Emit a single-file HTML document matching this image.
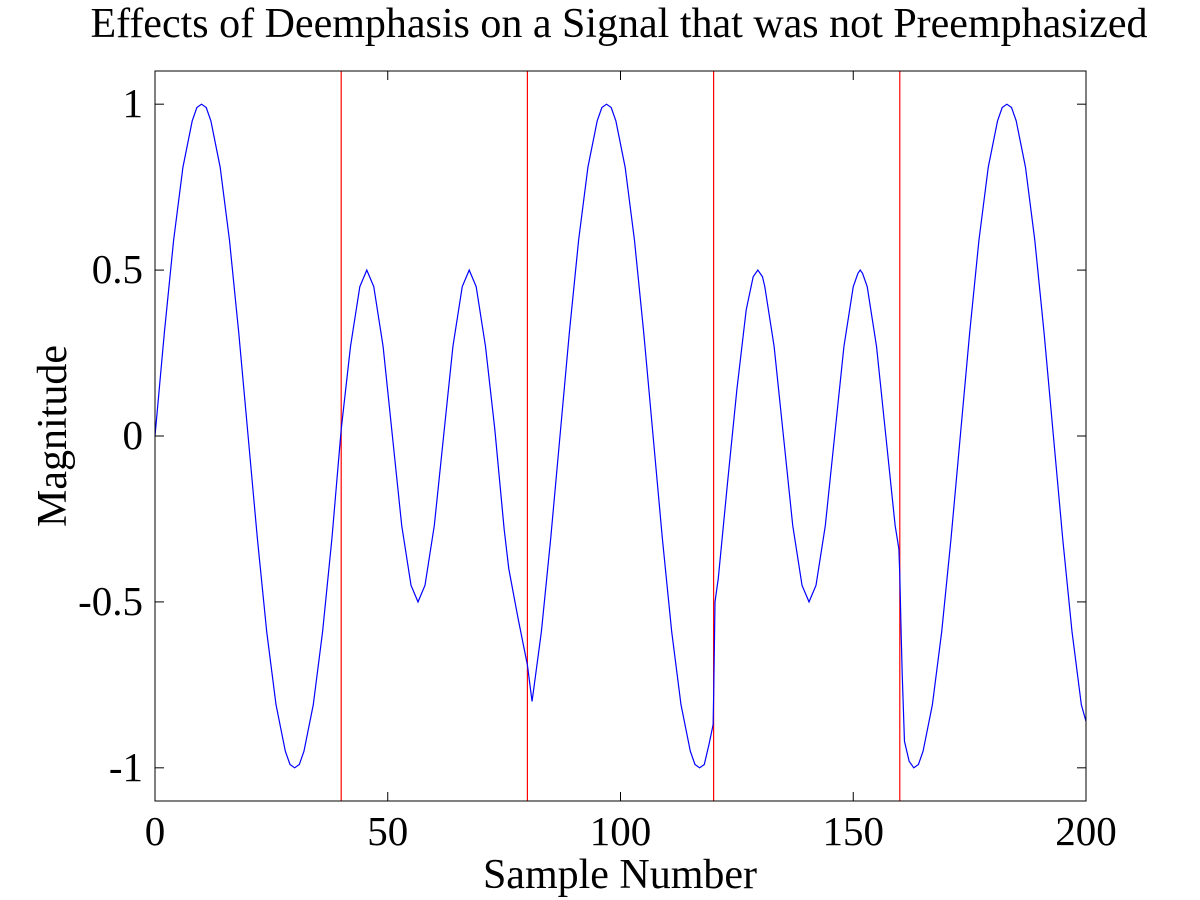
<!DOCTYPE html>
<html><head><meta charset="utf-8"><style>
body{margin:0;background:#fff;}
svg{display:block;font-family:"Liberation Serif",serif;}
</style></head><body>
<svg id="chart" width="1200" height="900">
<rect x="0" y="0" width="1200" height="900" fill="#fff"/>
<text x="619" y="37" font-size="42" text-anchor="middle">Effects of Deemphasis on a Signal that was not Preemphasized</text>
<text x="620" y="888" font-size="42" text-anchor="middle">Sample Number</text>
<text transform="translate(66,436) rotate(-90)" font-size="42" text-anchor="middle">Magnitude</text>
<g id="plot"></g>
</svg>
<script>
const sampleX=[0,2,4,6,8,9,10,11,12,14,16,18,20,22,24,26,28,29,30,31,32,34,36,38,40,42,44,45.5,47,49,51,53,55,56.5,58,60,62,64,66,67.5,69,71,73,75,76,78,80,81,83,85,87,89,91,93,95,96,97,98,99,101,103,105,107,109,111,113,115,116,117,118,119,119.9,120.05,120.3,121,123,125,127,128.5,129.5,130.5,131,133,135,137,139,140.5,142,144,146,148,150,151,151.5,152,153,155,157,159,159.8,160,160.3,160.5,161,162,163,164,165,167,169,171,173,175,177,179,181,182,183,184,185,187,189,191,193,195,197,199,200];
const sampleY=[0,.31,.59,.81,.95,.99,1,.99,.95,.81,.59,.31,0,-.31,-.59,-.81,-.95,-.99,-1,-.99,-.95,-.81,-.59,-.31,.02,.27,.45,.5,.45,.27,0,-.27,-.45,-.5,-.45,-.27,0,.27,.45,.5,.45,.27,.02,-.28,-.4,-.55,-.69,-.8,-.59,-.31,0,.31,.59,.81,.95,.99,1,.99,.95,.81,.59,.31,0,-.31,-.59,-.81,-.95,-.99,-1,-.99,-.93,-.87,-.75,-.5,-.43,-.14,.14,.38,.48,.5,.48,.45,.27,0,-.27,-.45,-.5,-.45,-.27,0,.27,.45,.49,.5,.49,.45,.27,0,-.27,-.34,-.42,-.6,-.71,-.92,-.98,-1,-.99,-.95,-.81,-.59,-.31,0,.31,.59,.81,.95,.99,1,.99,.95,.81,.59,.31,0,-.31,-.59,-.81,-.86];
const boundaries=[40,80,120,160];
const xTicks=[0,50,100,150,200];
const yTicks=[-1,-0.5,0,0.5,1];
const yTickLabels=["-1","-0.5","0","0.5","1"];

const L=155,R=1086,T=71,B=801,xMin=0,xMax=200,yMin=-1.1,yMax=1.1;
const sx=v=>L+(v-xMin)/(xMax-xMin)*(R-L);
const sy=v=>B-(v-yMin)/(yMax-yMin)*(B-T);
const NS="http://www.w3.org/2000/svg";
const g=document.getElementById('plot');
function mk(t,a){const e=document.createElementNS(NS,t);for(const k in a)e.setAttribute(k,a[k]);g.appendChild(e);return e;}

boundaries.forEach(b=>{
  const l=mk('line',{x1:sx(b),x2:sx(b),y1:T,y2:B,stroke:'#f00','stroke-width':1.2});
  
  
});
let d='';
sampleX.forEach((x,i)=>{d+=(i?'L':'M')+sx(x).toFixed(2)+','+sy(sampleY[i]).toFixed(2);});
const p=mk('path',{d:d,fill:'none',stroke:'#00f','stroke-width':1.2});



const box=mk('rect',{x:L,y:T,width:R-L,height:B-T,fill:'none',stroke:'#000','stroke-width':1});



xTicks.forEach(v=>{
  const X=sx(v);
  mk('line',{x1:X,x2:X,y1:B,y2:B-9,stroke:'#000'});
  mk('line',{x1:X,x2:X,y1:T,y2:T+9,stroke:'#000'});
  const t=mk('text',{x:X,y:B+44,'font-size':41,'text-anchor':'middle'});
  t.textContent=v;
  
  
});
yTicks.forEach((v,i)=>{
  const Y=sy(v);
  mk('line',{x1:L,x2:L+9,y1:Y,y2:Y,stroke:'#000'});
  mk('line',{x1:R,x2:R-9,y1:Y,y2:Y,stroke:'#000'});
  const t=mk('text',{x:L-12,y:Y+13,'font-size':41,'text-anchor':'end'});
  t.textContent=yTickLabels[i];
  
  
});
</script>
</body></html>
